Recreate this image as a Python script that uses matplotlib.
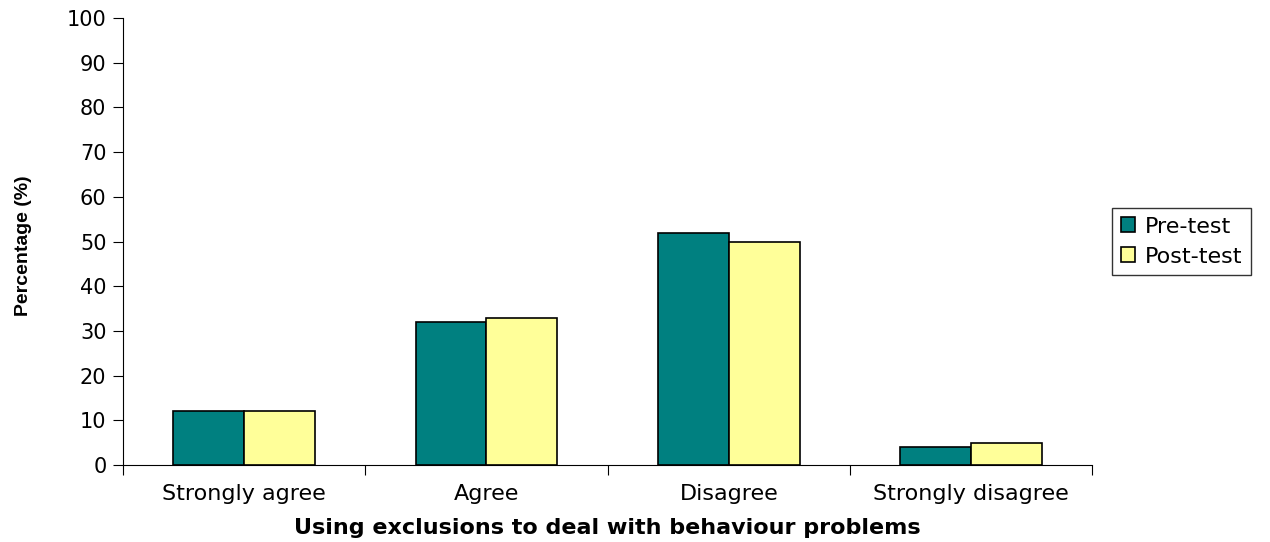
import numpy as np
import matplotlib.pyplot as plt

categorias = ["Strongly agree", "Agree", "Disagree", "Strongly disagree"]
pre_test = [12, 32, 52, 4]
post_test = [12, 33, 50, 5]

plt.rcParams['font.family'] = ['DejaVu Sans']

fig = plt.figure(figsize=(12.7, 5.42), dpi=100)
ax = fig.add_axes([0.0969, 0.142, 0.7631, 0.8248])

x = np.arange(len(categorias))
larg = 0.293
ax.bar(x - larg / 2, pre_test, larg, color='#008080', edgecolor='black', linewidth=1.2, label='Pre-test')
ax.bar(x + larg / 2, post_test, larg, color='#FFFF99', edgecolor='black', linewidth=1.2, label='Post-test')

ax.set_xlim(-0.5, len(categorias) - 0.5)
ax.set_ylim(0, 100)
ax.set_yticks(range(0, 101, 10))
ax.set_xticks(np.arange(-0.5, len(categorias), 1.0))
ax.set_xticklabels([])
ax.set_xticks(x, minor=True)
ax.set_xticklabels(categorias, minor=True, fontsize=16)
ax.tick_params(axis='x', which='minor', length=0, pad=14)
ax.tick_params(axis='x', which='major', length=7, direction='out')
ax.tick_params(axis='y', length=7, direction='out', labelsize=15, pad=5)

ax.spines['top'].set_visible(False)
ax.spines['right'].set_visible(False)

ax.set_xlabel("Using exclusions to deal with behaviour problems", fontsize=16,
              fontweight='bold', labelpad=10)
ax.set_ylabel("Percentage (%)", fontsize=14, fontweight='bold',
              family=['Liberation Sans', 'DejaVu Sans'])
ax.yaxis.set_label_coords(-0.094, 0.49)

leg = ax.legend(loc='center left', bbox_to_anchor=(1.0206, 0.5), borderaxespad=0,
                fontsize=16, frameon=True, fancybox=False, edgecolor='black',
                handlelength=0.65, handleheight=0.65, handletextpad=0.4,
                borderpad=0.4, labelspacing=0.45)
leg.get_frame().set_linewidth(1.0)

fig.savefig("out.png", dpi=100)
